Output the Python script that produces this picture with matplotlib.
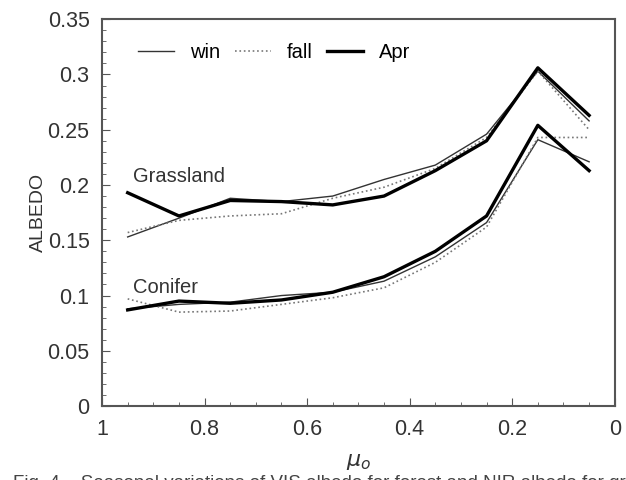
import matplotlib
matplotlib.use("Agg")
import matplotlib.pyplot as plt
from matplotlib.ticker import MultipleLocator

plt.rcParams["font.family"] = ["Liberation Sans", "DejaVu Sans"]

mu = [0.95, 0.85, 0.75, 0.65, 0.55, 0.45, 0.35, 0.25, 0.15, 0.05]

grass_win = [0.153, 0.170, 0.188, 0.185, 0.190, 0.205, 0.218, 0.246, 0.303, 0.258]
grass_fall = [0.157, 0.168, 0.172, 0.174, 0.188, 0.198, 0.215, 0.243, 0.303, 0.250]
grass_apr = [0.193, 0.172, 0.186, 0.185, 0.182, 0.190, 0.213, 0.240, 0.306, 0.263]

conif_win = [0.088, 0.092, 0.094, 0.100, 0.103, 0.113, 0.135, 0.166, 0.241, 0.221]
conif_fall = [0.097, 0.085, 0.086, 0.092, 0.098, 0.107, 0.130, 0.162, 0.243, 0.243]
conif_apr = [0.087, 0.095, 0.093, 0.096, 0.103, 0.117, 0.140, 0.172, 0.254, 0.213]

fig = plt.figure(figsize=(6.26, 4.8), dpi=100)
ax = fig.add_axes([0.163, 0.154, 0.819, 0.806])

# thin solid = win, dotted = fall, thick = Apr
ax.plot(mu, grass_win, color="#333333", lw=1.0, label="win")
ax.plot(mu, grass_fall, color="#777777", lw=1.2, ls=":", label="fall")
ax.plot(mu, grass_apr, color="black", lw=2.4, label="Apr")
ax.plot(mu, conif_win, color="#333333", lw=1.0)
ax.plot(mu, conif_fall, color="#777777", lw=1.2, ls=":")
ax.plot(mu, conif_apr, color="black", lw=2.4)

ax.text(0.94, 0.203, "Grassland", fontsize=14.5, color="#333333")
ax.text(0.94, 0.102, "Conifer", fontsize=14.5, color="#333333")

ax.set_xlim(1, 0)
ax.set_ylim(0, 0.35)
ax.xaxis.set_minor_locator(MultipleLocator(0.05))
ax.yaxis.set_minor_locator(MultipleLocator(0.01))
ax.set_xticks([1, 0.8, 0.6, 0.4, 0.2, 0])
ax.set_xticklabels(["1", "0.8", "0.6", "0.4", "0.2", "0"])
ax.set_yticks([0, 0.05, 0.1, 0.15, 0.2, 0.25, 0.3, 0.35])
ax.set_yticklabels(["0", "0.05", "0.1", "0.15", "0.2", "0.25", "0.3", "0.35"])
ax.tick_params(which="both", direction="in", labelsize=15.5, colors="#555555",
               labelcolor="#333333")
ax.tick_params(which="major", length=6, pad=9)
ax.tick_params(which="minor", length=3)
for s in ax.spines.values():
    s.set_color("#555555")
    s.set_linewidth(1.5)

ax.set_ylabel("ALBEDO", fontsize=14, color="#333333", labelpad=0)
ax.set_xlabel(r"$\mu_o$", fontsize=16, color="#333333", labelpad=8)

ax.legend(loc="upper left", ncol=3, frameon=False, fontsize=14.5,
          handlelength=1.8, handletextpad=0.8, columnspacing=0.7,
          bbox_to_anchor=(0.035, 0.985))

# caption, cut off at the bottom edge as in the source
fig.text(0.02, 0.011, "Fig. 4.   Seasonal variations of VIS albedo for forest and NIR albedo for grass for",
         fontsize=13.5, color="#444444", va="top")

fig.savefig("out.png", dpi=100)
